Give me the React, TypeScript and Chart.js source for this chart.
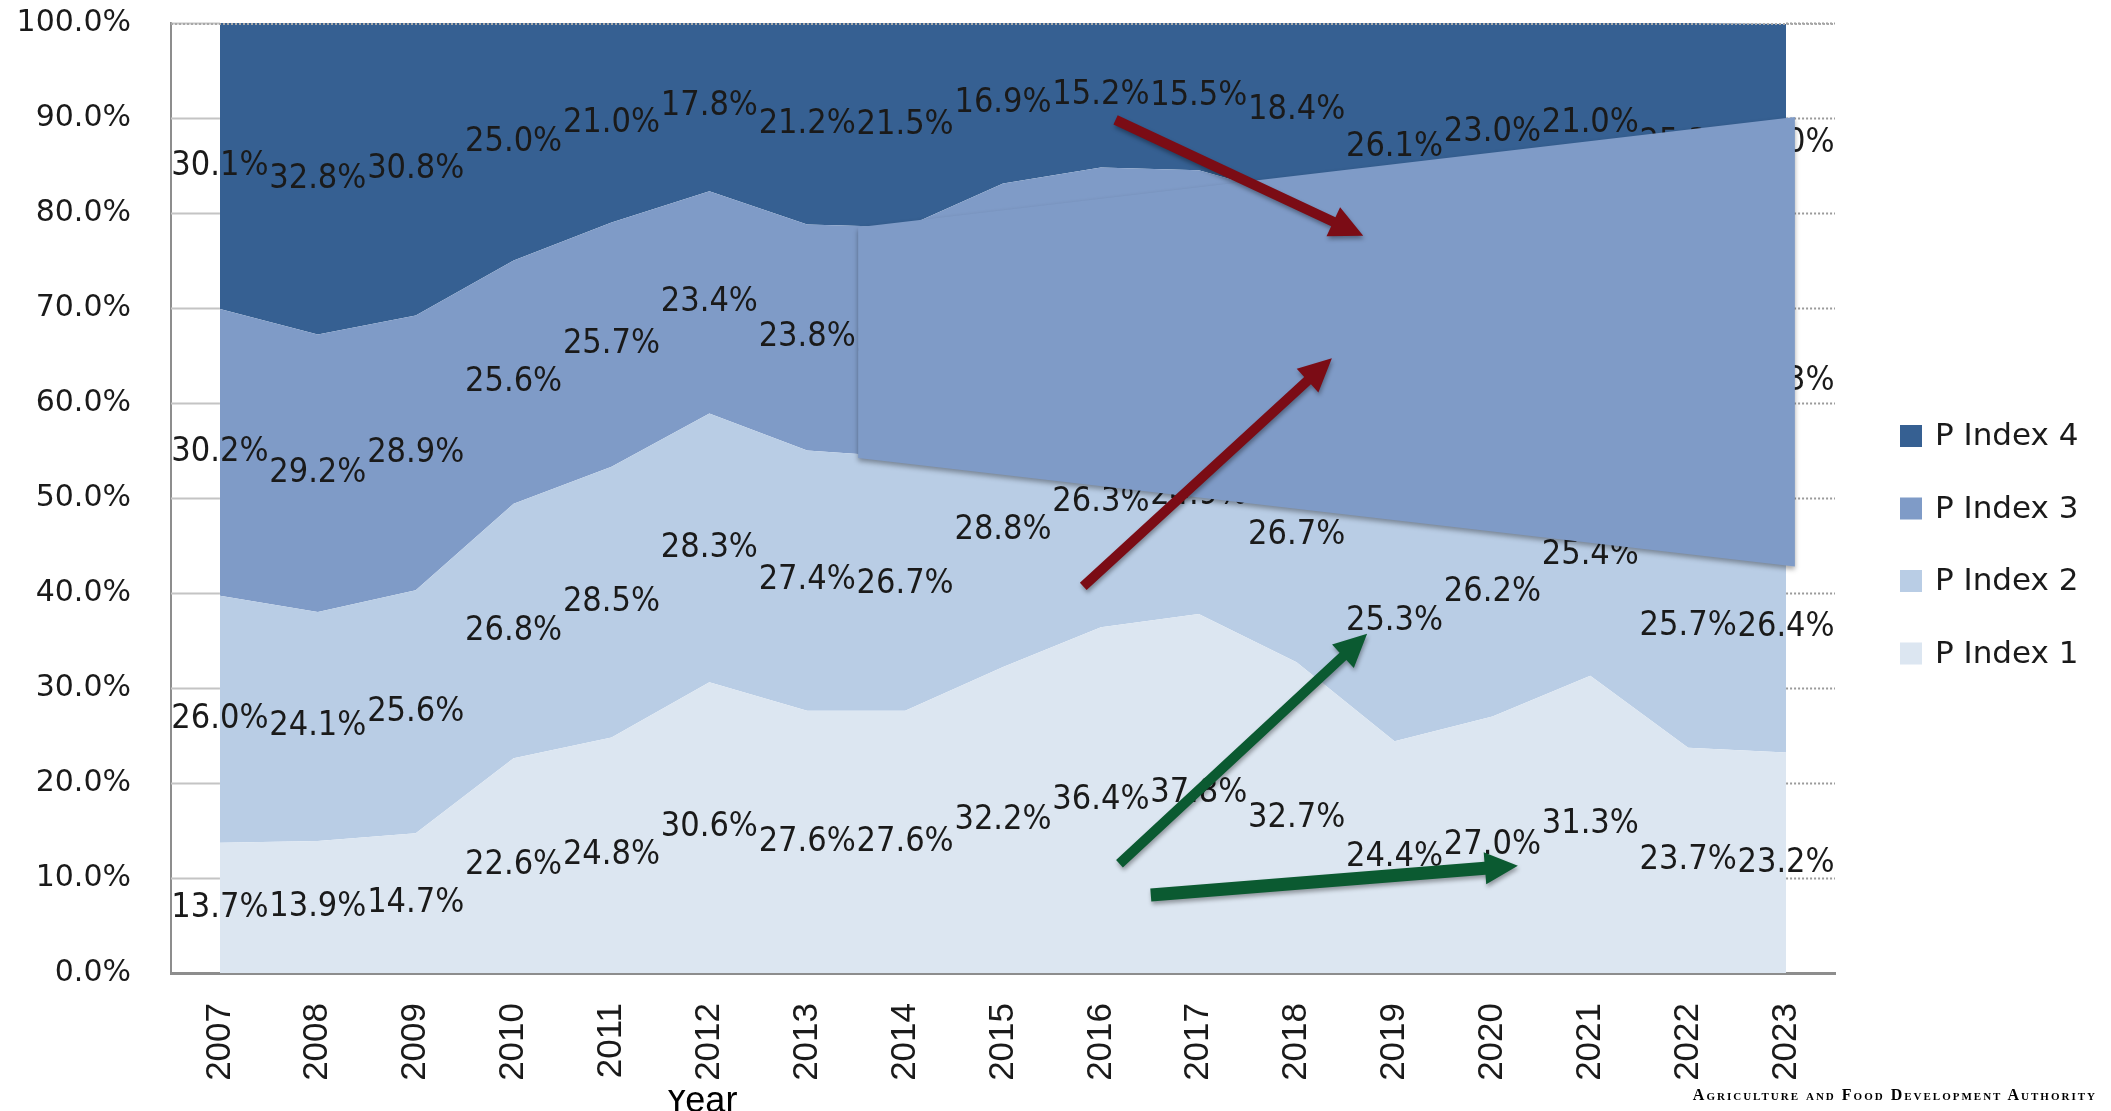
import React, { useEffect, useRef } from 'react';
import { Chart, registerables } from 'chart.js';

Chart.register(...registerables);

// ---------- data ----------
const years = ['2007', '2008', '2009', '2010', '2011', '2012', '2013', '2014', '2015', '2016', '2017', '2018', '2019', '2020', '2021', '2022', '2023'];
const pIndex1 = [13.7, 13.9, 14.7, 22.6, 24.8, 30.6, 27.6, 27.6, 32.2, 36.4, 37.8, 32.7, 24.4, 27.0, 31.3, 23.7, 23.2];
const pIndex2 = [26.0, 24.1, 25.6, 26.8, 28.5, 28.3, 27.4, 26.7, 28.8, 26.3, 24.9, 26.7, 25.3, 26.2, 25.4, 25.7, 26.4];
const pIndex3 = [30.2, 29.2, 28.9, 25.6, 25.7, 23.4, 23.8, 24.2, 22.1, 22.1, 21.8, 22.2, 24.2, 23.8, 22.3, 25.3, 25.3];
const pIndex4 = [30.1, 32.8, 30.8, 25.0, 21.0, 17.8, 21.2, 21.5, 16.9, 15.2, 15.5, 18.4, 26.1, 23.0, 21.0, 25.3, 25.0];
const seriesNames = ['P Index 1', 'P Index 2', 'P Index 3', 'P Index 4'];
const seriesValues = [pIndex1, pIndex2, pIndex3, pIndex4];
const seriesColors = ['#dce6f1', '#b9cde5', '#7f9bc7', '#366092'];
const yTickValues = [0, 10, 20, 30, 40, 50, 60, 70, 80, 90, 100];

// annotation shapes, in data coordinates: [category index, percent]
const overlayPolygon = [[6.52, 78.5], [16.09, 90.1], [16.09, 42.8], [6.52, 54.2]];
const redArrows = [
  { from: [9.15, 89.8], to: [11.68, 77.6], w: 10 },
  { from: [8.82, 40.7], to: [11.36, 64.7], w: 10 },
];
const greenArrows = [
  { from: [9.19, 11.5], to: [11.72, 35.7], w: 10 },
  { from: [9.51, 8.2], to: [13.26, 11.3], w: 13 },
];

const LABEL_FONT = '34px "DejaVu Sans Condensed", "DejaVu Sans", sans-serif';
const LEGEND_FONT = '31px "DejaVu Sans", sans-serif';

function drawArrow(ctx: CanvasRenderingContext2D, ax: number, ay: number, bx: number, by: number, w: number, color: string) {
  const dx = bx - ax, dy = by - ay;
  const len = Math.hypot(dx, dy);
  const ux = dx / len, uy = dy / len;
  const px = -uy, py = ux;
  const L = 33, H = 32;
  const cx = bx - ux * L, cy = by - uy * L;
  ctx.beginPath();
  ctx.moveTo(ax + px * w / 2, ay + py * w / 2);
  ctx.lineTo(cx + px * w / 2, cy + py * w / 2);
  ctx.lineTo(cx + px * H / 2, cy + py * H / 2);
  ctx.lineTo(bx, by);
  ctx.lineTo(cx - px * H / 2, cy - py * H / 2);
  ctx.lineTo(cx - px * w / 2, cy - py * w / 2);
  ctx.lineTo(ax - px * w / 2, ay - py * w / 2);
  ctx.closePath();
  ctx.fillStyle = color;
  ctx.fill();
}

const overlayPlugin = {
  id: 'overlayPlugin',
  beforeDatasetsDraw(chart: any) {
    const { ctx, chartArea, scales } = chart;
    const x = scales.x, y = scales.y;
    const x0 = x.getPixelForValue(0);
    const x1 = x.getPixelForValue(years.length - 1);
    ctx.save();
    yTickValues.forEach((t) => {
      if (t === 0) return;
      const py = Math.round(y.getPixelForValue(t)) + 0.5;
      ctx.setLineDash([]);
      ctx.strokeStyle = '#c4c4c4';
      ctx.lineWidth = 2;
      ctx.beginPath();
      ctx.moveTo(chartArea.left, py);
      ctx.lineTo(x0, py);
      ctx.stroke();
      ctx.setLineDash([2, 2]);
      ctx.strokeStyle = '#9a9a9a';
      ctx.beginPath();
      ctx.moveTo(x1, py);
      ctx.lineTo(chartArea.right, py);
      ctx.stroke();
    });
    ctx.restore();
  },
  afterDatasetsDraw(chart: any) {
    const { ctx, chartArea, scales } = chart;
    const x = scales.x, y = scales.y;
    ctx.save();
    // top dotted line
    ctx.setLineDash([2, 2]);
    ctx.strokeStyle = '#a8a8a8';
    ctx.lineWidth = 2;
    ctx.beginPath();
    ctx.moveTo(chartArea.left, chartArea.top + 1);
    ctx.lineTo(chartArea.right, chartArea.top + 1);
    ctx.stroke();
    ctx.setLineDash([]);

    // data labels at band centres
    ctx.font = LABEL_FONT;
    ctx.fillStyle = '#1a1a1a';
    ctx.textAlign = 'center';
    ctx.textBaseline = 'middle';
    for (let j = 0; j < years.length; j++) {
      let base = 0;
      for (let i = 0; i < seriesValues.length; i++) {
        const v = seriesValues[i][j];
        const px = x.getPixelForValue(j);
        const py = y.getPixelForValue(base + v / 2);
        ctx.fillText(v.toFixed(1) + '%', px, py);
        base += v;
      }
    }

    // overlay polygon
    ctx.save();
    ctx.shadowColor = 'rgba(0,0,0,0.35)';
    ctx.shadowBlur = 5;
    ctx.shadowOffsetX = 0;
    ctx.shadowOffsetY = 3;
    ctx.beginPath();
    overlayPolygon.forEach(([ix, v], k) => {
      const px = x.getPixelForValue(ix);
      const py = y.getPixelForValue(v);
      if (k === 0) ctx.moveTo(px, py); else ctx.lineTo(px, py);
    });
    ctx.closePath();
    ctx.fillStyle = seriesColors[2];
    ctx.fill();
    ctx.restore();

    // arrows
    ctx.save();
    ctx.shadowColor = 'rgba(0,0,0,0.35)';
    ctx.shadowBlur = 4;
    ctx.shadowOffsetX = 1;
    ctx.shadowOffsetY = 3;
    redArrows.forEach((a) => {
      drawArrow(ctx, x.getPixelForValue(a.from[0]), y.getPixelForValue(a.from[1]), x.getPixelForValue(a.to[0]), y.getPixelForValue(a.to[1]), a.w, '#7b0c15');
    });
    greenArrows.forEach((a) => {
      drawArrow(ctx, x.getPixelForValue(a.from[0]), y.getPixelForValue(a.from[1]), x.getPixelForValue(a.to[0]), y.getPixelForValue(a.to[1]), a.w, '#0b5a31');
    });
    ctx.restore();
    ctx.restore();
  },
  afterDraw(chart: any) {
    const { ctx } = chart;
    ctx.save();
    // legend (reversed order)
    ctx.font = LEGEND_FONT;
    ctx.textAlign = 'left';
    ctx.textBaseline = 'middle';
    const legendX = 1900;
    const legendY0 = 436;
    const rowGap = 72.5;
    for (let k = 0; k < seriesNames.length; k++) {
      const i = seriesNames.length - 1 - k;
      const cy = legendY0 + k * rowGap;
      ctx.fillStyle = seriesColors[i];
      ctx.fillRect(legendX, cy - 11, 22, 22);
      ctx.fillStyle = '#1a1a1a';
      ctx.fillText(seriesNames[i], legendX + 35, cy + 1);
    }
    // axis title (its top is hidden, bottom cut by the picture edge)
    ctx.save();
    ctx.beginPath();
    ctx.rect(0, 1090, 2111, 30);
    ctx.clip();
    ctx.font = '36px "Liberation Sans", Arial, sans-serif';
    ctx.fillStyle = '#000';
    ctx.textAlign = 'center';
    ctx.textBaseline = 'alphabetic';
    ctx.fillText('Year', 701, 1112);
    ctx.restore();
    ctx.restore();
  },
};

export default function App() {
  const canvasRef = useRef<HTMLCanvasElement | null>(null);

  useEffect(() => {
    document.body.style.margin = '0';
    document.body.style.overflow = 'hidden';
    const canvas = canvasRef.current;
    if (!canvas) return;
    const chart = new Chart(canvas, {
      type: 'line',
      data: {
        labels: years,
        datasets: seriesNames.map((name, i) => ({
          label: name,
          data: seriesValues[i],
          backgroundColor: seriesColors[i],
          borderColor: seriesColors[i],
          borderWidth: 0,
          pointRadius: 0,
          tension: 0,
          fill: i === 0 ? 'origin' : '-1',
        })),
      },
      options: {
        responsive: false,
        animation: false,
        layout: { padding: { top: 23, right: 276, left: 0, bottom: 0 } },
        plugins: {
          legend: { display: false },
          tooltip: { enabled: false },
        },
        scales: {
          x: {
            type: 'category',
            offset: true,
            grid: { display: false, drawTicks: false },
            border: { display: true, color: '#8d8d8d', width: 3 },
            ticks: {
              minRotation: 90,
              maxRotation: 90,
              padding: 30,
              color: '#1a1a1a',
              font: { family: '"Liberation Sans", Arial, sans-serif', size: 35 },
            },
            afterFit: (scale: any) => {
              scale.height = 138;
              scale.paddingLeft = 0;
              scale.paddingRight = 0;
            },
          },
          y: {
            stacked: true,
            min: 0,
            max: 100,
            grid: { display: false, drawTicks: false },
            border: { display: true, color: '#8d8d8d', width: 2 },
            ticks: {
              stepSize: 10,
              padding: 40,
              color: '#1a1a1a',
              font: { family: '"DejaVu Sans", sans-serif', size: 30 },
              callback: (v: any) => Number(v).toFixed(1) + '%',
            },
            afterFit: (scale: any) => {
              scale.width = 171;
              scale.paddingTop = 0;
              scale.paddingBottom = 0;
            },
          },
        },
      },
      plugins: [overlayPlugin],
    });
    return () => chart.destroy();
  }, []);

  return (
    <div style={{ position: 'relative', width: 2111, height: 1111, overflow: 'hidden', background: '#fff' }}>
      <canvas ref={canvasRef} width={2111} height={1111} style={{ display: 'block' }} />
      <div
        style={{
          position: 'absolute',
          right: 14,
          top: 1086,
          fontFamily: '"Liberation Serif", "Times New Roman", serif',
          fontWeight: 'bold',
          fontSize: 16,
          letterSpacing: '2px',
          fontVariant: 'small-caps',
          whiteSpace: 'nowrap',
          color: '#000',
        }}
      >
        Agriculture and Food Development Authority
      </div>
    </div>
  );
}
